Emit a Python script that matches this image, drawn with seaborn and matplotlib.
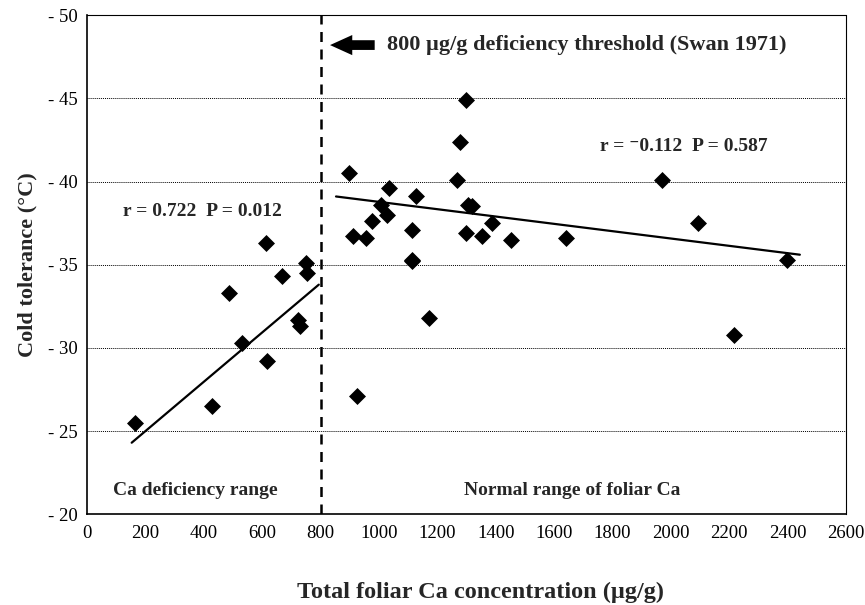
import numpy as np
import pandas as pd
import seaborn as sns
import matplotlib.pyplot as plt

# foliar Ca (ug/g) and cold tolerance (C)
deficient_ca = [164, 428, 485, 531, 614, 617, 667, 724, 730, 750, 753]
deficient_tol = [-25.5, -26.5, -33.3, -30.3, -36.3, -29.2, -34.3, -31.7, -31.3, -35.1, -34.5]

normal_ca = [899, 910, 924, 955, 975, 1007, 1029, 1035, 1113, 1115, 1115, 1128, 1172,
             1269, 1278, 1297, 1297, 1306, 1318, 1354, 1388, 1451, 1642, 1969, 2094,
             2217, 2399]
normal_tol = [-40.5, -36.7, -27.1, -36.6, -37.6, -38.6, -38.0, -39.6, -37.1, -35.3,
              -35.2, -39.1, -31.8, -40.1, -42.4, -44.9, -36.9, -38.6, -38.5, -36.7,
              -37.5, -36.5, -36.6, -40.1, -37.5, -30.8, -35.3]

# fitted regression lines (end points as drawn)
fit_def_x = [153, 794]
fit_def_y = [-24.3, -33.8]
fit_norm_x = [853, 2442]
fit_norm_y = [-39.1, -35.6]

threshold = 800
x_ticks = list(range(0, 2601, 200))
y_ticks = [-50, -45, -40, -35, -30, -25, -20]

df = pd.DataFrame({
    'ca': deficient_ca + normal_ca,
    'tol': deficient_tol + normal_tol,
})

sns.set_style("white")
plt.rcParams['font.family'] = ['Liberation Serif', 'DejaVu Serif']

fig, ax = plt.subplots(figsize=(8.65, 6.05), dpi=100)
fig.subplots_adjust(left=0.1006, right=0.978, top=0.975, bottom=0.150)

# dotted horizontal grid
for yv in y_ticks[1:-1]:
    ax.axhline(yv, color='black', lw=0.7, ls=(0, (1, 1)), zorder=0)

sns.lineplot(x=fit_def_x, y=fit_def_y, color='black', lw=1.6, ax=ax)
sns.lineplot(x=fit_norm_x, y=fit_norm_y, color='black', lw=1.6, ax=ax)
sns.scatterplot(data=df, x='ca', y='tol', marker='D', color='black', s=75,
                edgecolor='black', linewidth=0, ax=ax, zorder=3)

ax.axvline(threshold, color='black', lw=1.8, ls=(0, (4, 3)), zorder=2)

ax.set_xlim(0, 2600)
ax.set_ylim(-20, -50)
ax.set_xticks(x_ticks)
ax.set_xticklabels([str(v) for v in x_ticks])
ax.set_yticks(y_ticks)
ax.set_yticklabels([f"- {abs(v)}" for v in y_ticks])
ax.tick_params(axis='both', labelsize=13.5, length=4, width=0.8, colors='black')
ax.tick_params(axis='x', direction='in', pad=8)
ax.tick_params(axis='y', direction='out', pad=3)

for side in ['left', 'bottom']:
    ax.spines[side].set_color('black')
    ax.spines[side].set_linewidth(1.2)
for side in ['top', 'right']:
    ax.spines[side].set_color('black')
    ax.spines[side].set_linewidth(0.8)
    ax.spines[side].set_linestyle((0, (1, 1)))

ax.set_xlabel('Total foliar Ca concentration (µg/g)', fontsize=17.5, fontweight='bold')
ax.xaxis.set_label_coords(0.519, -0.135)
ax.set_ylabel('Cold tolerance (°C)', fontsize=16, fontweight='bold', labelpad=7)

# threshold arrow + text
ax.annotate('', xy=(823, -48.2), xytext=(995, -48.2),
            arrowprops=dict(arrowstyle='simple,head_length=16,head_width=14.5,tail_width=7',
                            mutation_scale=1, color='black', lw=0))
ax.text(1028, -48.2, '800 µg/g deficiency threshold (Swan 1971)', fontsize=16,
        fontweight='bold', va='center', ha='left')

ax.text(123, -38.2, 'r = 0.722  P = 0.012', fontsize=14, fontweight='bold',
        va='center', ha='left')
ax.text(1756, -42.1, 'r = \u207b0.112  P = 0.587', fontsize=14, fontweight='bold',
        va='center', ha='left')
ax.text(89, -21.4, 'Ca deficiency range', fontsize=14, fontweight='bold',
        va='center', ha='left')
ax.text(1291, -21.4, 'Normal range of foliar Ca', fontsize=14, fontweight='bold',
        va='center', ha='left')

plt.savefig('out.png', dpi=100)
plt.close()
